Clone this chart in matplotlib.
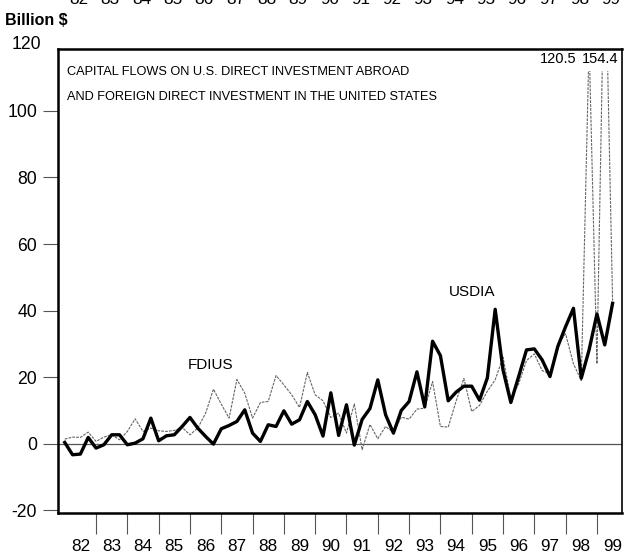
import matplotlib
matplotlib.use('Agg')
import matplotlib.pyplot as plt
from matplotlib.patches import Rectangle
import numpy as np

plt.rcParams['font.family'] = ['Liberation Sans', 'DejaVu Sans']

# Quarterly capital flows, billion $, 1982Q1 - 1999Q3
usdia = [0.4, -3.3, -3.1, 1.9,
         -1.3, -0.3, 2.7, 2.7,
         -0.3, 0.2, 1.5, 7.7,
         0.9, 2.4, 2.7, 5.2,
         7.9, 4.7, 2.2, -0.1,
         4.5, 5.5, 6.7, 10.2,
         3.2, 0.7, 5.7, 5.2,
         9.9, 5.9, 7.2, 12.7,
         8.7, 2.3, 15.3, 2.5,
         11.7, -0.4, 7.3, 10.6,
         19.2, 8.7, 3.2, 10.0,
         12.7, 21.6, 11.1, 30.8,
         26.5, 12.9, 15.5, 17.3,
         17.3, 13.1, 19.8, 40.4,
         22.2, 12.4, 20.2, 28.2,
         28.5, 25.2, 20.2, 29.2,
         35.2, 40.7, 19.7, 28.2,
         39.0, 29.7, 42.2]

fdius = [1.4, 2.0, 1.9, 3.5,
         0.7, 2.0, 2.7, 1.2,
         3.7, 7.5, 3.7, 4.7,
         3.9, 3.7, 4.0, 4.9,
         2.7, 4.7, 9.2, 16.4,
         11.9, 7.7, 19.3, 15.2,
         7.7, 12.4, 12.7, 20.5,
         17.7, 14.7, 10.9, 21.4,
         14.7, 12.9, 7.9, 9.2,
         3.2, 12.0, -1.8, 5.8,
         1.5, 5.2, 3.4, 8.0,
         7.4, 10.4, 10.7, 18.7,
         5.2, 5.0, 12.8, 19.6,
         9.7, 11.5, 15.8, 19.2,
         26.0, 13.5, 18.0, 25.0,
         27.0, 22.0, 21.0, 30.0,
         33.0, 24.0, 19.0, 120.5,
         24.0, 154.4, 43.0]

years = list(range(1982, 2000))
year_labels = [str(y)[2:] for y in years]
y_ticks = [-20, 0, 20, 40, 60, 80, 100]

quarters = 1982 + np.arange(len(usdia)) / 4

fig = plt.figure(figsize=(6.24, 5.54), dpi=100)
ax = fig.add_axes([0.093, 0.074, 0.904, 0.8376])

# Zero reference line
ax.axhline(0, color='#555555', lw=0.9, zorder=1)

# FDIUS thin gray, USDIA heavy black
fd_line, = ax.plot(quarters, fdius, color='#666666', lw=0.8,
                   ls=(0, (2.5, 1)), zorder=2)
ax.plot(quarters, usdia, color='black', lw=2.4, zorder=3)

# stop the off-scale spikes just under their value labels
clip = Rectangle((1981, -30), 20, 142, transform=ax.transData)
fd_line.set_clip_path(clip)

ax.set_xlim(1981.786, 1999.805)
ax.set_ylim(-20.8, 118.6)

for side in ['left', 'right', 'top', 'bottom']:
    ax.spines[side].set_linewidth(1.8)
ax.spines['right'].set_linewidth(1.2)

# Y axis: outward ticks on the left
ax.set_yticks(y_ticks)
ax.set_yticklabels([str(v) for v in y_ticks], fontsize=12.7)
ax.tick_params(axis='y', direction='out', length=11, width=0.8,
               color='#555555', pad=4)
ax.text(-0.03, 120, '120', transform=ax.get_yaxis_transform(),
        ha='right', va='center', fontsize=12.7, clip_on=False)

# X axis: tick marks on year boundaries, labels centred in each year
ax.set_xticks([y + 0.5 for y in years])
ax.set_xticklabels(year_labels, fontsize=12.3)
ax.set_xticks(years[1:], minor=True)
ax.tick_params(axis='x', which='major', length=0, pad=19)
ax.tick_params(axis='x', which='minor', direction='out', length=15,
               width=0.8, color='#555555')

# Spike values running off the top
ax.annotate('120.5', xy=(quarters[67], 118.6), xytext=(-22, -2),
            textcoords='offset points', ha='center', va='top', fontsize=10.5)
ax.annotate('154.4', xy=(quarters[69], 118.6), xytext=(-3, -2),
            textcoords='offset points', ha='center', va='top', fontsize=10.5)

ax.text(0.016, 0.950, 'CAPITAL FLOWS ON U.S. DIRECT INVESTMENT ABROAD',
        transform=ax.transAxes, ha='left', va='center', fontsize=9.2)
ax.text(0.016, 0.8966, 'AND FOREIGN DIRECT INVESTMENT IN THE UNITED STATES',
        transform=ax.transAxes, ha='left', va='center', fontsize=9.2)

ax.text(1986.67, 23.7, 'FDIUS', ha='center', va='center', fontsize=11)
ax.text(1995.02, 45.6, 'USDIA', ha='center', va='center', fontsize=11)

fig.text(0.008, 0.963, 'Billion $', ha='left', va='center',
         fontsize=11.5, fontweight='bold')

# Year labels of the panel above, cut by the top edge
for y, lab in zip(years, year_labels):
    xf = ax.transData.transform((y + 0.45, 0))[0] / fig.bbox.width
    fig.text(xf, 1 - 4 / 554, lab, ha='center', va='baseline', fontsize=12.3)

fig.savefig('out.png', dpi=100)
